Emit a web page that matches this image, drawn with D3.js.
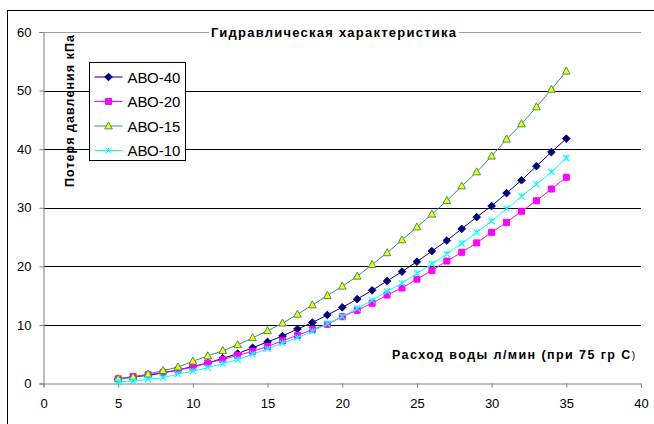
<!DOCTYPE html>
<html>
<head>
<meta charset="utf-8">
<script src="https://cdn.jsdelivr.net/npm/d3@7"></script>
<style>
  body { margin: 0; background: #fff; }
  text { font-family: Arial, 'Liberation Sans', sans-serif; }
</style>
</head>
<body>
<div id="chart"></div>
<script>
// Расход воды, л/мин
const flow = d3.range(5, 36);

// Потеря давления, кПа
const abo40 = [0.75, 1.1, 1.4, 1.8, 2.3, 2.9, 3.5, 4.3, 5.1, 6.1, 7.1, 8.1, 9.3, 10.4, 11.7, 13.0,
  14.4, 15.9, 17.5, 19.1, 20.8, 22.6, 24.4, 26.4, 28.4, 30.3, 32.5, 34.7, 37.1, 39.5, 41.8];
const abo20 = [0.8, 1.2, 1.5, 1.9, 2.3, 2.8, 3.5, 4.1, 4.8, 5.5, 6.3, 7.3, 8.2, 9.2, 10.1, 11.4,
  12.5, 13.7, 15.1, 16.3, 17.8, 19.3, 20.9, 22.4, 24.0, 25.8, 27.5, 29.4, 31.2, 33.2, 35.2];
const abo15 = [0.8, 1.1, 1.6, 2.2, 2.8, 3.8, 4.7, 5.6, 6.6, 7.8, 9.0, 10.3, 11.8, 13.4, 15.0, 16.6,
  18.3, 20.3, 22.3, 24.5, 26.7, 28.9, 31.2, 33.7, 36.1, 38.8, 41.7, 44.3, 47.2, 50.2, 53.3];
const abo10 = [0.25, 0.4, 0.7, 1.0, 1.6, 2.1, 2.7, 3.4, 4.1, 5.0, 5.9, 6.9, 7.8, 8.9, 10.2, 11.4,
  12.8, 14.2, 15.7, 17.1, 18.8, 20.4, 22.1, 23.9, 25.8, 27.7, 29.8, 31.9, 34.0, 36.1, 38.5];

const seriesNames = ['АВО-40', 'АВО-20', 'АВО-15', 'АВО-10'];
const xTicks = [0, 5, 10, 15, 20, 25, 30, 35, 40];
const yTicks = [0, 10, 20, 30, 40, 50, 60];

const WIDTH = 654;
const HEIGHT = 424;

// маркеры в духе Excel
const diamond = { draw(ctx, s) { ctx.moveTo(0, -s); ctx.lineTo(s, 0); ctx.lineTo(0, s); ctx.lineTo(-s, 0); ctx.closePath(); } };
const square = { draw(ctx, s) { ctx.rect(-s, -s, 2 * s, 2 * s); } };
const triangle = { draw(ctx, s) { ctx.moveTo(0, -s * 1.1); ctx.lineTo(s, s * 0.75); ctx.lineTo(-s, s * 0.75); ctx.closePath(); } };
const cross = { draw(ctx, s) {
  ctx.moveTo(-s, -s); ctx.lineTo(s, s); ctx.moveTo(s, -s); ctx.lineTo(-s, s);
  ctx.moveTo(0, -s); ctx.lineTo(0, s * 0.3);
} };

const series = [
  { name: seriesNames[0], values: abo40, line: '#000080', fill: '#000080', stroke: '#000080', shape: diamond, size: 3.8 },
  { name: seriesNames[1], values: abo20, line: '#ff00ff', fill: '#ff00ff', stroke: '#ff00ff', shape: square, size: 3 },
  { name: seriesNames[2], values: abo15, line: '#339966', fill: '#ffff00', stroke: '#339966', shape: triangle, size: 3.8 },
  { name: seriesNames[3], values: abo10, line: '#00ffff', fill: 'none', stroke: '#00ffff', shape: cross, size: 3 },
];

const svg = d3
  .select('#chart')
  .append('svg')
  .attr('width', WIDTH)
  .attr('height', HEIGHT);

// рамка диаграммы (правая и нижняя стороны за пределами кадра)
svg
  .append('rect')
  .attr('x', 7.5)
  .attr('y', 10.5)
  .attr('width', WIDTH + 10)
  .attr('height', HEIGHT + 10)
  .attr('fill', '#fff')
  .attr('stroke', '#000');

const x = d3.scaleLinear().domain([0, 40]).range([43.5, 641]);
const y = d3.scaleLinear().domain([0, 60]).range([383.5, 32]);

// линии сетки
svg
  .append('g')
  .selectAll('line')
  .data(yTicks.filter((d) => d > 0))
  .enter()
  .append('line')
  .attr('x1', x(0))
  .attr('x2', x(40))
  .attr('y1', (d) => Math.round(y(d)) + 0.5)
  .attr('y2', (d) => Math.round(y(d)) + 0.5)
  .attr('stroke', (d) => (d === 60 ? '#a0a0a0' : '#000'))
  .attr('stroke-width', 1);

// ось Y
const yAxis = svg
  .append('g')
  .attr('transform', `translate(${x(0)},0)`)
  .call(d3.axisLeft(y).tickValues(yTicks).tickSize(4).tickPadding(8).tickFormat(d3.format('d')));
// ось X
const xAxis = svg
  .append('g')
  .attr('transform', `translate(0,${y(0)})`)
  .call(d3.axisBottom(x).tickValues(xTicks).tickSize(4).tickPadding(11).tickFormat(d3.format('d')));

[yAxis, xAxis].forEach((a) => {
  a.select('.domain').attr('stroke', '#808080');
  a.selectAll('.tick line').attr('stroke', '#808080');
  a.selectAll('.tick text').attr('font-size', 13).attr('fill', '#000').attr('font-family', 'Arial, Liberation Sans, sans-serif');
});

// подписи
const title = svg
  .append('text')
  .attr('x', 333.5)
  .attr('y', 37)
  .attr('text-anchor', 'middle')
  .attr('font-size', 13)
  .attr('font-weight', 'bold')
  .attr('textLength', 245)
  .attr('lengthAdjust', 'spacing')
  .text('Гидравлическая характеристика');
const tb = title.node().getBBox();
svg
  .insert('rect', function () { return title.node(); })
  .attr('x', tb.x - 2)
  .attr('y', tb.y)
  .attr('width', tb.width + 4)
  .attr('height', tb.height)
  .attr('fill', '#fff');

svg
  .append('text')
  .attr('transform', 'translate(74,111) rotate(-90)')
  .attr('text-anchor', 'middle')
  .attr('font-size', 12.5)
  .attr('font-weight', 'bold')
  .attr('textLength', 152)
  .attr('lengthAdjust', 'spacing')
  .text('Потеря давления кПа');

const xLabel = svg
  .append('text')
  .attr('x', 392)
  .attr('y', 359)
  .attr('font-size', 12.5)
  .attr('font-weight', 'bold')
  .attr('textLength', 243)
  .attr('lengthAdjust', 'spacing');
xLabel.append('tspan').text('Расход воды л/мин (при 75 гр С');
xLabel.append('tspan').attr('font-weight', 'normal').attr('font-size', 10).text(')');

// кривые
const line = d3
  .line()
  .x((d) => x(d[0]))
  .y((d) => y(d[1]));

const plot = svg.append('g');
series.forEach((s) => {
  const pts = flow.map((f, i) => [f, s.values[i]]);
  plot
    .append('path')
    .datum(pts)
    .attr('fill', 'none')
    .attr('stroke', s.line)
    .attr('stroke-width', 1)
    .attr('d', line);
  plot
    .append('g')
    .selectAll('path')
    .data(pts)
    .enter()
    .append('path')
    .attr('transform', (d) => `translate(${x(d[0])},${y(d[1])})`)
    .attr('d', d3.symbol().type(s.shape).size(s.size))
    .attr('fill', s.fill)
    .attr('stroke', s.stroke)
    .attr('stroke-width', s.shape === cross ? 1.2 : 1);
});

// легенда
const legend = svg.append('g').attr('transform', 'translate(89.5,62.5)');
legend
  .append('rect')
  .attr('width', 96)
  .attr('height', 98)
  .attr('fill', '#fff')
  .attr('stroke', '#000');

const item = legend
  .selectAll('g')
  .data(series)
  .enter()
  .append('g')
  .attr('transform', (d, i) => `translate(0,${14.5 + i * 24.5})`);
item
  .append('line')
  .attr('x1', 5)
  .attr('x2', 33)
  .attr('stroke', (d) => d.line)
  .attr('stroke-width', 1);
item
  .append('path')
  .attr('transform', 'translate(19,0)')
  .attr('d', (d) => d3.symbol().type(d.shape).size(d.size)())
  .attr('fill', (d) => d.fill)
  .attr('stroke', (d) => d.stroke)
  .attr('stroke-width', 1);
item
  .append('text')
  .attr('x', 38)
  .attr('y', 5.5)
  .attr('font-size', 15)
  .text((d) => d.name);
</script>
</body>
</html>
